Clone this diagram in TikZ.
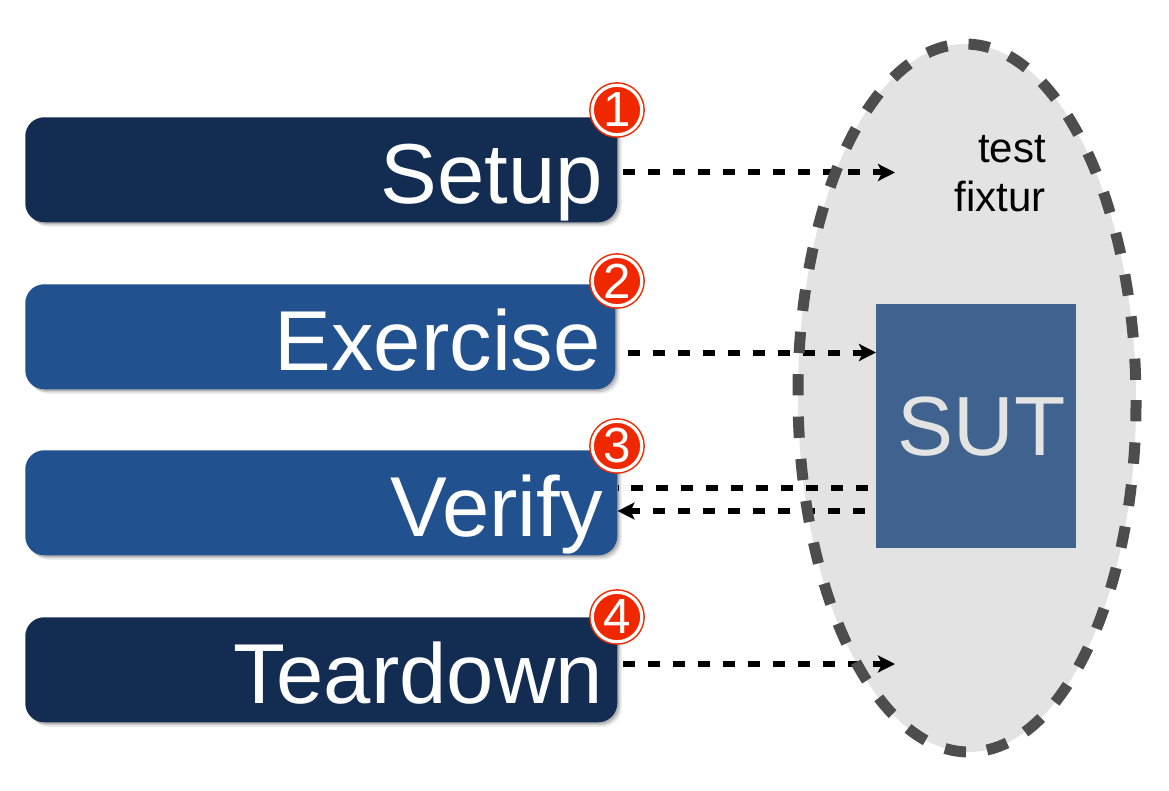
\documentclass[tikz,border=0pt]{standalone}
\usepackage{fontspec}
\setmainfont{Liberation Sans}
\usetikzlibrary{arrows.meta,shadows,calc,shapes.geometric}
\newlength{\px}\setlength{\px}{0.75pt}
\tikzset{
  softshadow/.style={
    drop shadow={shadow xshift=1.5*\px,shadow yshift=-1.5*\px,opacity=.15,fill=black},
    drop shadow={shadow xshift=3*\px,shadow yshift=-3*\px,opacity=.12,fill=black},
    drop shadow={shadow xshift=4.5*\px,shadow yshift=-4.5*\px,opacity=.07,fill=black}},
  phasebox/.style={rectangle,rounded corners=19*\px,softshadow,text=white,anchor=north west,
    inner xsep=14.5*\px,inner ysep=0pt,text width=#1*\px-29*\px,align=right,
    text height=86*\px,text depth=19*\px,font=\fontsize{63.8}{70}\selectfont},
  badge/.style={circle,fill=badgered,draw=badgered,line width=1.5*\px,double=white,
    double distance=3.2*\px,minimum size=49.5*\px,inner sep=0pt,outer sep=0pt,text=white,
    font=\fontsize{37}{40}\selectfont},
  conn/.style={draw=black,line width=6*\px,dash pattern=on 12.5*\px off 12.5*\px},
  tip/.style={-{Stealth[length=12.75pt,width=12.75pt,inset=3pt]}},
  fixshape/.style={ellipse,minimum width=338*\px,minimum height=708*\px,inner sep=0pt,outer sep=0pt,rotate=0.4},
}
\definecolor{navy}{HTML}{132C52}
\definecolor{midblue}{HTML}{22518F}
\definecolor{sutblue}{HTML}{40628F}
\definecolor{fixgray}{HTML}{E3E3E3}
\definecolor{fixdash}{HTML}{4D4D4D}
\definecolor{badgered}{HTML}{F02800}
\begin{document}
\begin{tikzpicture}[x=0.75pt,y=-0.75pt]
\useasboundingbox (0,0) rectangle (1169,791);
% fixture fill
\node[fixshape,fill=fixgray] (fixfill) at (967,398) {};
% SUT
\node[rectangle,fill=sutblue,text=fixgray,anchor=north west,minimum width=200*\px,minimum height=244*\px,inner sep=0pt,
  font=\fontsize{63}{70}\selectfont] (sut) at (876,304) {\hspace*{11\px}SUT};
\node[anchor=north east,inner sep=0pt,align=right,font=\fontsize{31.5}{36.5}\selectfont] (fixlabel) at (1046,135) {test\\fixtur};
% phases
\node[phasebox=592,fill=navy] (setup) at (25,117) {Setup};
\node[phasebox=590,fill=midblue] (exercise) at (25,284) {Exercise};
\node[phasebox=592,fill=midblue] (verify) at (25,450) {Verify};
\node[phasebox=592,fill=navy] (teardown) at (25,617) {Teardown};
% connector ends
\coordinate (e1) at (895,172.5);
\coordinate (e2) at (876,352.5);
\coordinate (e3) at (868,488);
\coordinate (e4) at (865,511);
\coordinate (e5) at (895,664);
\draw[conn,tip,shorten <=5*\px] (setup.east |- e1) -- (e1);
\draw[conn,tip,shorten <=12*\px] (exercise.east |- e2) -- (sut.west |- e2);
\draw[conn] (e3) -- (verify.east |- e3);
\draw[conn,tip] (e4) -- (verify.east |- e4);
\draw[conn,tip,shorten <=5*\px] (teardown.east |- e5) -- (e5);
% fixture outline
\node[fixshape,draw=fixdash,line width=11*\px,dash pattern=on 21.3*\px off 21.1*\px,dash phase=25.5*\px] (fixline) at (967,398) {};
% badges
\node[badge] (b1) at (617,110) {1};
\node[badge] (b2) at (617,281) {2};
\node[badge] (b3) at (617,446) {3};
\node[badge] (b4) at (617,617) {4};
\end{tikzpicture}
\end{document}
